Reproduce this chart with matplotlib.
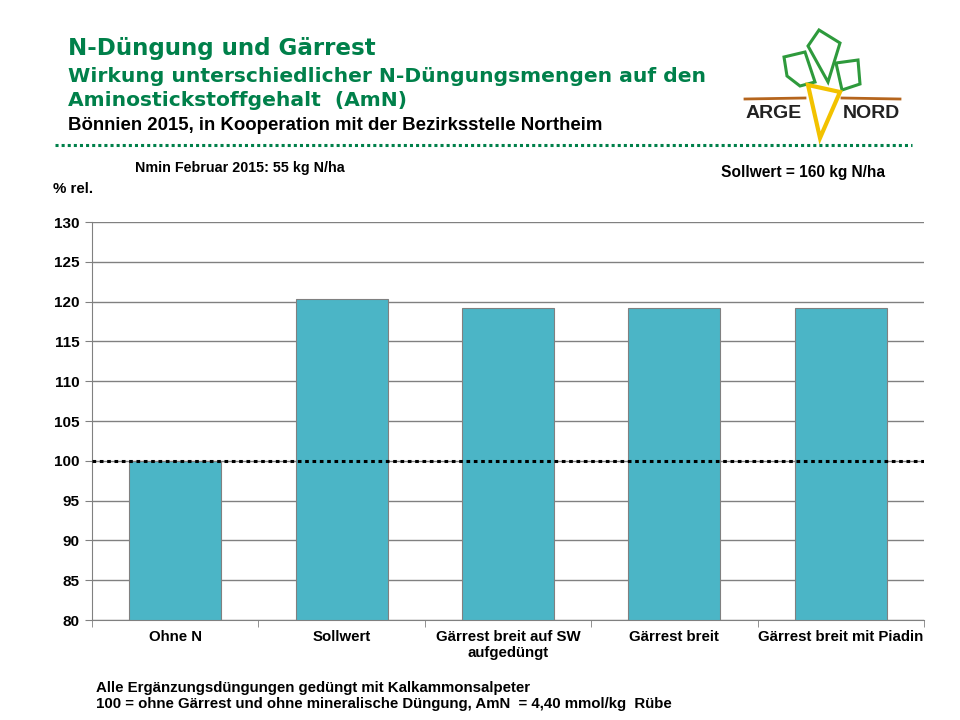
import matplotlib.pyplot as plt
from matplotlib.patches import Polygon

plt.rcParams['font.family'] = ['Liberation Sans', 'DejaVu Sans']

categories = ['Ohne N', 'Sollwert', 'Gärrest breit auf SW\naufgedüngt', 'Gärrest breit', 'Gärrest breit mit Piadin']
values = [100.0, 120.3, 119.2, 119.2, 119.2]
y_ticks = [80, 85, 90, 95, 100, 105, 110, 115, 120, 125, 130]

GREEN = '#00804a'
BAR = '#4bb5c6'
GRID = '#808080'

W, H = 960, 720
fig = plt.figure(figsize=(W / 100, H / 100), dpi=100)

# plot area in pixels: x 92..924, y 222..620
ax = fig.add_axes([92 / W, 1 - 620 / H, 832 / W, 398 / H])
x = range(len(categories))
ax.bar(x, values, width=0.553, color=BAR, edgecolor=GRID, linewidth=0.8, zorder=2)
ax.set_ylim(80, 130)
ax.set_xlim(-0.5, len(categories) - 0.5)
ax.set_yticks(y_ticks)
ax.set_yticklabels([str(v) for v in y_ticks], fontsize=11, fontweight='bold')
ax.set_xticks(list(x))
ax.set_xticklabels(categories, fontsize=10.8, fontweight='bold', linespacing=1.25)
ax.yaxis.grid(True, color=GRID, linewidth=1.0, zorder=0)
ax.set_axisbelow(True)
ax.axhline(100, color='black', linestyle=(0, (1.2, 1.2)), linewidth=2.2, zorder=3)
for side in ('top', 'right'):
    ax.spines[side].set_visible(False)
for side in ('left', 'bottom'):
    ax.spines[side].set_color(GRID)
ax.tick_params(axis='y', length=5, color=GRID, pad=4)
ax.tick_params(axis='x', length=0, pad=7)
# small ticks between the categories
ax.set_xticks([i + 0.5 for i in range(-1, len(categories))], minor=True)
ax.tick_params(axis='x', which='minor', length=5, color=GRID)

# overlay in pixel coordinates for header, notes and logo
ov = fig.add_axes([0, 0, 1, 1], zorder=5)
ov.set_xlim(0, W)
ov.set_ylim(H, 0)
ov.axis('off')
ov.patch.set_alpha(0)

head = ['DejaVu Sans']
ov.text(68, 49, 'N-Düngung und Gärrest', color=GREEN, fontsize=16.6, fontweight='bold', va='center',
        family=head)
ov.text(68, 77, 'Wirkung unterschiedlicher N-Düngungsmengen auf den', color=GREEN, fontsize=14.6,
        fontweight='bold', va='center', family=head)
ov.text(68, 101, 'Aminostickstoffgehalt  (AmN)', color=GREEN, fontsize=14.6, fontweight='bold', va='center',
        family=head)
ov.text(68, 126, 'Bönnien 2015, in Kooperation mit der Bezirksstelle Northeim', color='black', fontsize=13.4,
        fontweight='bold', va='center')
ov.plot([55, 912], [145, 145], color=GREEN, linestyle=(0, (1, 1)), linewidth=2.2)

ov.text(135, 168, 'Nmin Februar 2015: 55 kg N/ha', fontsize=10.3, fontweight='bold', va='center')
ov.text(53, 189, '% rel.', fontsize=10.8, fontweight='bold', va='center')
ov.text(721, 172, 'Sollwert = 160 kg N/ha', fontsize=11.2, fontweight='bold', va='center')
ov.text(96, 688, 'Alle Ergänzungsdüngungen gedüngt mit Kalkammonsalpeter', fontsize=10.8, fontweight='bold',
        va='center')
ov.text(96, 704, '100 = ohne Gärrest und ohne mineralische Düngung, AmN  = 4,40 mmol/kg  Rübe', fontsize=10.8,
        fontweight='bold', va='center')

# logo
leaf_kw = dict(closed=True, fill=False, edgecolor='#2e9a3c', linewidth=2.2)
ov.add_patch(Polygon([(819, 30), (840, 43), (828, 82), (808, 46)], **leaf_kw))
ov.add_patch(Polygon([(784, 57), (805, 52), (815, 82), (800, 86), (787, 76)], **leaf_kw))
ov.add_patch(Polygon([(836, 63), (858, 60), (860, 84), (842, 90)], **leaf_kw))
ov.plot([745, 805], [99, 98], color='#b5651d', linewidth=2)
ov.plot([842, 900], [98, 99], color='#b5651d', linewidth=2)
ov.add_patch(Polygon([(808, 85), (840, 92), (820, 138)], closed=True, fill=False,
                     edgecolor='#f2c200', linewidth=3))
ov.text(774, 114, 'ARGE', fontsize=14, fontweight='bold', color='#222222', ha='center', va='center')
ov.text(871, 114, 'NORD', fontsize=14, fontweight='bold', color='#222222', ha='center', va='center')

fig.savefig('out.png', dpi=100)
